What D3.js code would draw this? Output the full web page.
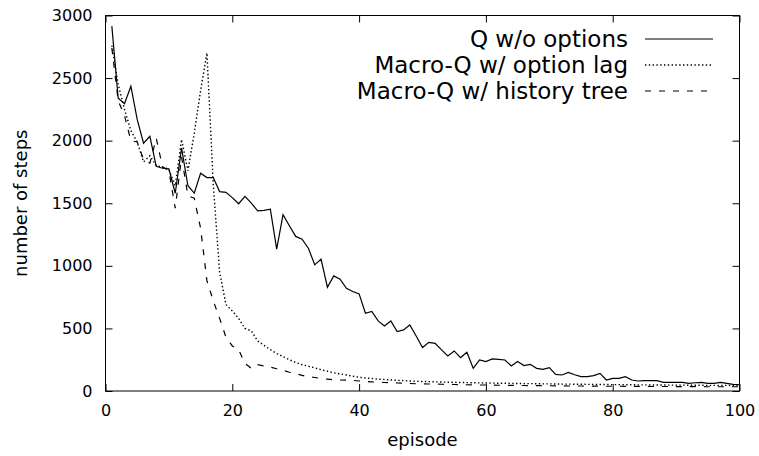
<!DOCTYPE html>
<html>
<head>
<meta charset="utf-8">
<script src="https://cdn.jsdelivr.net/npm/d3@7"></script>
<style>
  html, body { margin: 0; padding: 0; background: #fff; }
  svg { display: block; font-family: "DejaVu Sans", sans-serif; }
</style>
</head>
<body>
<svg id="chart" width="759" height="456"></svg>
<script>
// ---------- data ----------
const seriesNames = ["Q w/o options", "Macro-Q w/ option lag", "Macro-Q w/ history tree"];
const xTicks = [0, 20, 40, 60, 80, 100];
const yTicks = [0, 500, 1000, 1500, 2000, 2500, 3000];

const qNoOptions = [
  2915, 2340, 2295, 2435, 2170, 1980, 2035, 1795, 1780, 1775,
  1580, 1940, 1640, 1581, 1740, 1705, 1705, 1593, 1587, 1545,
  1496, 1555, 1501, 1440, 1443, 1453, 1133, 1408, 1320, 1235,
  1213, 1141, 1008, 1053, 829, 920, 893, 821, 795, 776,
  621, 635, 560, 520, 560, 475, 488, 528, 440, 347,
  389, 381, 328, 280, 320, 267, 309, 181, 248, 235,
  256, 253, 248, 200, 235, 203, 213, 181, 173, 187,
  133, 128, 149, 130, 115, 115, 123, 141, 88, 101,
  101, 115, 88, 80, 83, 83, 83, 69, 69, 69,
  69, 61, 66, 69, 61, 61, 69, 61, 53, 50
];
const macroQLag = [
  2760, 2450, 2250, 2080, 1990, 1830, 1880, 1800, 1790, 1770,
  1640, 2010, 1760, 2060, 2400, 2700, 1650, 950, 690, 640,
  580, 500, 480, 400, 365, 330, 300, 275, 250, 228,
  210, 198, 185, 170, 158, 145, 137, 128, 118, 110,
  104, 100, 95, 92, 88, 85, 83, 80, 78, 76,
  75, 73, 72, 70, 70, 68, 67, 66, 65, 64,
  63, 62, 62, 61, 60, 59, 59, 58, 57, 57,
  56, 55, 55, 54, 54, 53, 53, 52, 52, 51,
  51, 50, 50, 49, 49, 48, 48, 48, 47, 47,
  47, 46, 46, 46, 45, 45, 45, 45, 44, 44
];
const macroQTree = [
  2740, 2320, 2200, 2000, 1990, 1850, 1820, 2020, 1790, 1760,
  1460, 1870, 1560, 1540, 1300, 880, 720, 580, 430, 360,
  330, 220, 180, 210, 200, 190, 178, 165, 150, 140,
  125, 115, 108, 100, 95, 90, 88, 86, 85, 80,
  76, 73, 70, 68, 66, 64, 62, 60, 58, 57,
  56, 55, 54, 53, 52, 51, 50, 49, 48, 48,
  47, 46, 46, 45, 44, 44, 43, 43, 42, 42,
  41, 41, 40, 40, 40, 39, 39, 39, 38, 38,
  38, 37, 37, 37, 37, 36, 36, 36, 36, 35,
  35, 35, 35, 35, 34, 34, 34, 34, 34, 34
];
const dashStyles = [null, "1.4,2.4", "6,8"];
const strokeWidths = [1.2, 1.4, 1.2];

// ---------- layout ----------
const svg = d3.select("#chart");
const L = 105.5, R = 739.5, T = 15.5, B = 391;
const x = d3.scaleLinear().domain([0, 100]).range([L, R]);
const y = d3.scaleLinear().domain([0, 3000]).range([B, T]);
const tickLen = 7;
const fmt = d3.format("d");

// axes (gnuplot style: inward ticks, mirrored)
const gx = svg.append("g").attr("transform", `translate(0,${B})`)
  .call(d3.axisBottom(x).tickValues(xTicks).tickFormat(fmt).tickSizeInner(-tickLen).tickSizeOuter(0).tickPadding(14));
const gy = svg.append("g").attr("transform", `translate(${L},0)`)
  .call(d3.axisLeft(y).tickValues(yTicks).tickFormat(fmt).tickSizeInner(-tickLen).tickSizeOuter(0).tickPadding(13));
const gxTop = svg.append("g").attr("transform", `translate(0,${T})`)
  .call(d3.axisTop(x).tickValues(xTicks).tickSizeInner(-tickLen).tickSizeOuter(0).tickFormat(""));
const gyRight = svg.append("g").attr("transform", `translate(${R},0)`)
  .call(d3.axisRight(y).tickValues(yTicks).tickSizeInner(-tickLen).tickSizeOuter(0).tickFormat(""));
[gx, gy, gxTop, gyRight].forEach(g => {
  g.select(".domain").remove();
  g.selectAll("line").attr("stroke", "#000").attr("stroke-width", 1);
  g.selectAll("text").attr("font-family", "DejaVu Sans, sans-serif").attr("font-size", 16).attr("fill", "#000");
});
gx.selectAll("text").attr("dy", "0.71em");

// frame
svg.append("rect").attr("x", L).attr("y", T).attr("width", R - L).attr("height", B - T)
  .attr("fill", "none").attr("stroke", "#000").attr("stroke-width", 1);

// axis labels
svg.append("text").attr("x", (L + R) / 2).attr("y", 446).attr("text-anchor", "middle")
  .attr("font-size", 18).attr("fill", "#000").text("episode");
svg.append("text").attr("transform", `translate(27,${(T + B) / 2}) rotate(-90)`).attr("text-anchor", "middle")
  .attr("font-size", 18).attr("fill", "#000").text("number of steps");

// lines
const allSeries = [qNoOptions, macroQLag, macroQTree];
const line = d3.line().x((d, i) => x(i + 1)).y(d => y(d));
allSeries.forEach((s, k) => {
  svg.append("path").datum(s).attr("d", line)
    .attr("fill", "none").attr("stroke", "#000").attr("stroke-width", strokeWidths[k])
    .attr("stroke-dasharray", dashStyles[k]);
});

// legend
const legY = [39, 65, 91];
seriesNames.forEach((name, k) => {
  svg.append("text").attr("x", 628).attr("y", legY[k]).attr("dy", "0.35em")
    .attr("text-anchor", "end").attr("font-size", 23).attr("fill", "#000").text(name);
  svg.append("line").attr("x1", 645).attr("x2", 713).attr("y1", legY[k]).attr("y2", legY[k])
    .attr("stroke", "#000").attr("stroke-width", strokeWidths[k]).attr("stroke-dasharray", dashStyles[k]);
});
</script>
</body>
</html>
